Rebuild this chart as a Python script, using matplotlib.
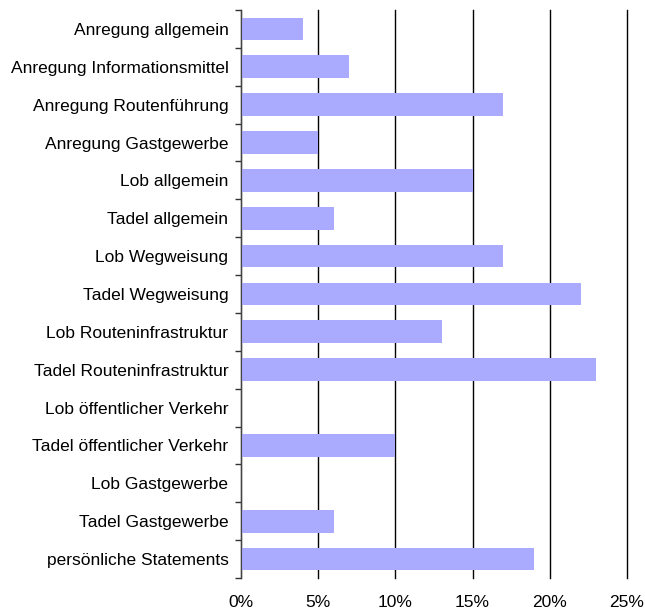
import numpy as np
import matplotlib.pyplot as plt
from matplotlib.ticker import FixedLocator, PercentFormatter

# Kategorien und Anteile (%)
kategorien = [
    "Anregung allgemein",
    "Anregung Informationsmittel",
    "Anregung Routenführung",
    "Anregung Gastgewerbe",
    "Lob allgemein",
    "Tadel allgemein",
    "Lob Wegweisung",
    "Tadel Wegweisung",
    "Lob Routeninfrastruktur",
    "Tadel Routeninfrastruktur",
    "Lob öffentlicher Verkehr",
    "Tadel öffentlicher Verkehr",
    "Lob Gastgewerbe",
    "Tadel Gastgewerbe",
    "persönliche Statements",
]
anteile = [4, 7, 17, 5, 15, 6, 17, 22, 13, 23, 0, 10, 0, 6, 19]

plt.rcParams['font.family'] = ['Liberation Sans', 'DejaVu Sans']

fig = plt.figure(figsize=(6.45, 6.1), dpi=100)
ax = fig.add_axes([0.3736, 0.0525, 0.5984, 0.9311])

y = np.arange(len(kategorien))
ax.barh(y, anteile, height=0.6, color="#AAAAFF", zorder=2)

ax.set_ylim(len(kategorien) - 0.5, -0.5)
ax.set_xlim(0, 25)

ax.set_yticks(y)
ax.set_yticklabels(kategorien, fontsize=12.5)
ax.yaxis.set_minor_locator(FixedLocator(np.arange(-0.5, len(kategorien), 1)))
ax.tick_params(axis='y', which='major', length=0, pad=9)
ax.tick_params(axis='y', which='minor', length=4, width=1, color="#333333")

ax.set_xticks([0, 5, 10, 15, 20, 25])
ax.xaxis.set_major_formatter(PercentFormatter(decimals=0))
ax.tick_params(axis='x', length=0, pad=12, labelsize=12.5)

# vertikale Gitterlinien
ax.grid(axis='x', color='black', linewidth=1, zorder=0)
ax.set_axisbelow(True)
for gl in ax.get_xgridlines():
    gl.set_clip_on(False)

for s in ['top', 'right', 'bottom']:
    ax.spines[s].set_visible(False)
ax.spines['left'].set_color('#444444')
ax.spines['left'].set_zorder(3)

fig.savefig("out.png", dpi=100)
